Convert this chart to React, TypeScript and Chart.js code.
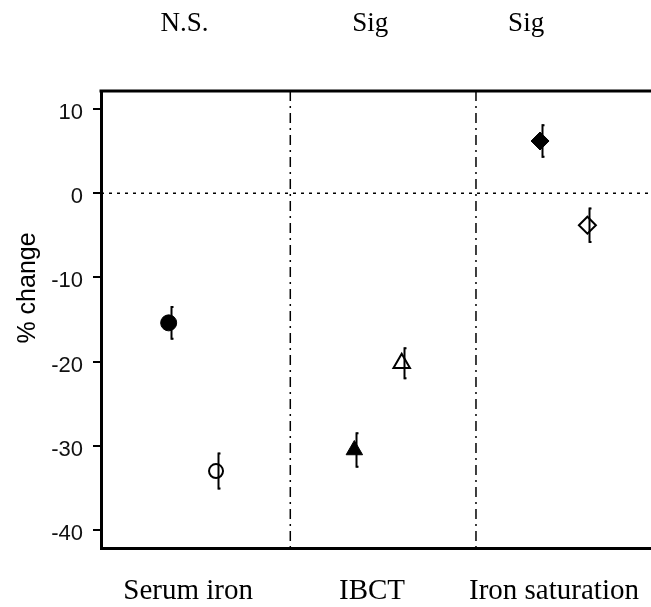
import React, { useEffect, useRef } from "react";
import { Chart, registerables } from "chart.js";

Chart.register(...registerables);

// Measures and significance labels
const categories = ["Serum iron", "IBCT", "Iron saturation"];
const significance = ["N.S.", "Sig", "Sig"];

// Percent change, filled markers (first series) and open markers (second series)
const filledValues = [-15.4, -30.5, 6.2];
const filledErrors = [2.0, 2.1, 2.0];
const openValues = [-33.0, -20.2, -3.8];
const openErrors = [2.2, 1.9, 2.1];

const markerStyles = ["circle", "triangle", "rectRot"];
const yTicks = [10, 0, -10, -20, -30, -40];

// Placement along the category axis (group n sits around value n)
const groupPos = [1, 2, 3];
const filledOffset = -0.155;
const openOffset = 0.1;
const dividerPos = [1.5, 2.5];
const categoryLabelPos = [0.95, 1.94, 2.92];
const sigLabelPos = [0.93, 1.93, 2.77];

const SANS = "'Liberation Sans', Arial, sans-serif";
const SERIF = "'Liberation Serif', 'Times New Roman', serif";

const errorSets = [filledErrors, openErrors];
const valueSets = [filledValues, openValues];

const decorations = {
  id: "decorations",
  beforeDatasetsDraw(chart: any) {
    const { ctx, chartArea: a, scales } = chart;
    const x = scales.x;
    const y = scales.y;
    ctx.save();
    ctx.strokeStyle = "#000";
    // zero reference line
    ctx.lineWidth = 1.5;
    ctx.setLineDash([3, 5]);
    const y0 = y.getPixelForValue(0);
    ctx.beginPath();
    ctx.moveTo(a.left, y0);
    ctx.lineTo(a.right, y0);
    ctx.stroke();
    // group dividers
    ctx.setLineDash([10, 5, 2, 5]);
    dividerPos.forEach((v) => {
      const px = x.getPixelForValue(v);
      ctx.beginPath();
      ctx.moveTo(px, a.top);
      ctx.lineTo(px, a.bottom);
      ctx.stroke();
    });
    ctx.setLineDash([]);
    // top frame line
    ctx.lineWidth = 3;
    ctx.beginPath();
    ctx.moveTo(a.left - 1.5, a.top);
    ctx.lineTo(a.right, a.top);
    ctx.stroke();
    ctx.restore();
  },
  afterDatasetsDraw(chart: any) {
    const { ctx, scales } = chart;
    const y = scales.y;
    ctx.save();
    ctx.strokeStyle = "#000";
    ctx.lineWidth = 2;
    [0, 1].forEach((di) => {
      const meta = chart.getDatasetMeta(di);
      meta.data.forEach((pt: any, i: number) => {
        const v = valueSets[di][i];
        const e = errorSets[di][i];
        const px = Math.round(pt.x) + 2.5;
        const top = y.getPixelForValue(v + e);
        const bot = y.getPixelForValue(v - e);
        ctx.beginPath();
        ctx.moveTo(px, top);
        ctx.lineTo(px, bot);
        ctx.stroke();
        ctx.beginPath();
        ctx.moveTo(px, top + 1);
        ctx.lineTo(px + 2, top + 1);
        ctx.moveTo(px, bot - 1);
        ctx.lineTo(px + 2, bot - 1);
        ctx.stroke();
      });
    });
    ctx.restore();
  },
  afterDraw(chart: any) {
    const { ctx, scales } = chart;
    const x = scales.x;
    ctx.save();
    ctx.fillStyle = "#000";
    ctx.textAlign = "center";
    ctx.textBaseline = "alphabetic";
    ctx.font = `29px ${SERIF}`;
    categories.forEach((c, i) => {
      ctx.fillText(c, x.getPixelForValue(categoryLabelPos[i]), 599);
    });
    ctx.font = `27px ${SERIF}`;
    significance.forEach((s, i) => {
      ctx.fillText(s, x.getPixelForValue(sigLabelPos[i]), 31);
    });
    // y-axis title
    ctx.font = `25px ${SANS}`;
    ctx.translate(28, 288);
    ctx.rotate(-Math.PI / 2);
    ctx.textBaseline = "middle";
    ctx.fillText("% change", 0, 0);
    ctx.restore();
  },
};

export default function App() {
  const ref = useRef<HTMLCanvasElement | null>(null);

  useEffect(() => {
    if (!ref.current) return;
    const chart = new Chart(ref.current, {
      type: "scatter",
      data: {
        datasets: [
          {
            label: "filled",
            data: groupPos.map((g, i) => ({ x: g + filledOffset, y: filledValues[i] })),
            pointStyle: markerStyles as any,
            pointRadius: [8, 9.5, 9],
            backgroundColor: "#000",
            borderColor: "#000",
            borderWidth: 1,
          },
          {
            label: "open",
            data: groupPos.map((g, i) => ({ x: g + openOffset, y: openValues[i] })),
            pointStyle: markerStyles as any,
            pointRadius: [7, 9.5, 8.5],
            backgroundColor: "rgba(0,0,0,0)",
            borderColor: "#000",
            borderWidth: 2,
          },
        ],
      },
      options: {
        animation: false,
        responsive: false,
        events: [],
        layout: { autoPadding: false, padding: { top: 91, left: 0, right: 0, bottom: 0 } },
        plugins: {
          legend: { display: false },
          tooltip: { enabled: false },
        },
        scales: {
          x: {
            type: "linear",
            min: 0.4806,
            max: 3.4425,
            grid: { display: false },
            border: { display: true, color: "#000", width: 3 },
            ticks: { display: false },
            afterFit(scale: any) {
              scale.height = 59;
            },
          },
          y: {
            type: "linear",
            min: -42.14,
            max: 12.14,
            afterBuildTicks(scale: any) {
              scale.ticks = yTicks.map((v) => ({ value: v }));
            },
            grid: {
              display: true,
              drawOnChartArea: false,
              drawTicks: true,
              tickLength: 8,
              tickWidth: 2,
              tickColor: "#000",
              color: "#000",
              lineWidth: 2,
            },
            border: { display: true, color: "#000", width: 3 },
            ticks: {
              color: "#111",
              font: { family: SANS, size: 22 },
              padding: 10,
              labelOffset: 4,
              callback: (v: any) => String(v),
            },
            afterFit(scale: any) {
              scale.width = 101;
            },
          },
        },
      },
      plugins: [decorations],
    });
    return () => chart.destroy();
  }, []);

  return (
    <div style={{ position: "fixed", left: 0, top: 0, width: 651, height: 607, background: "#fff" }}>
      <canvas ref={ref} width={651} height={607} style={{ width: 651, height: 607, display: "block" }} />
    </div>
  );
}
